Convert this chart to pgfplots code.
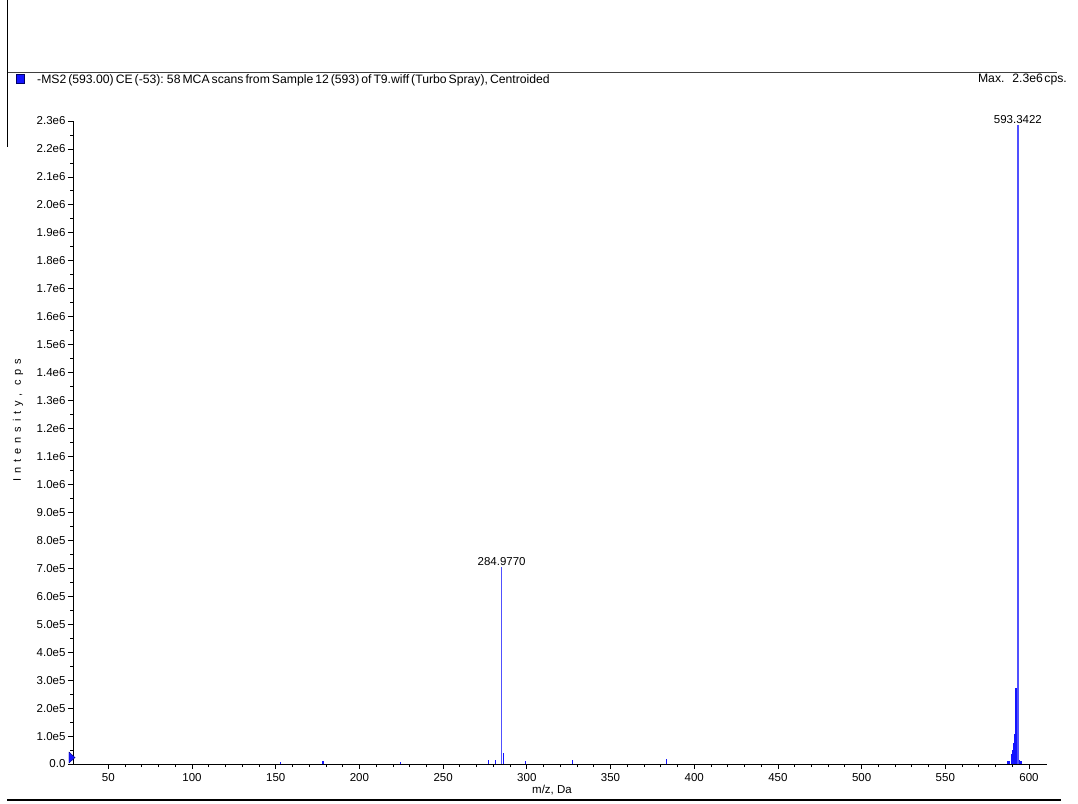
\documentclass[border=0pt]{standalone}
\usepackage{fontspec}
\setmainfont{Liberation Sans}
\usepackage{pgfplots}
\pgfplotsset{compat=1.18}
\definecolor{specblue}{RGB}{20,20,255}
\definecolor{speclight}{RGB}{80,80,255}
\begin{document}
\begin{tikzpicture}[x=1pt,y=1pt]
\useasboundingbox (0,0) rectangle (1078,-803);
% frame lines
\draw[line width=0.9pt] (7.5,0) -- (7.5,-147);
\draw[line width=0.9pt, black!75] (7.5,-72) -- (1057,-72);
\draw[line width=1.3pt] (7,-800) -- (1061,-800);
\filldraw[fill=specblue, draw=blue!40!black, line width=0.5pt] (16,-74.5) rectangle (24,-83);
\node[anchor=west, inner sep=0pt, font=\fontsize{12.2}{13}\selectfont] at (37,-80)
  {{\spaceskip=2pt plus 0.3pt\relax -MS2 (593.00) CE (-53): 58 MCA scans from Sample 12 (593) of T9.wiff (Turbo Spray), Centroided}};
\node[anchor=east, inner sep=0pt, font=\fontsize{12.2}{13}\selectfont] at (1067,-80)
  {Max.~ 2.3e6{\spaceskip=1.5pt\relax\ }cps.};
\node[rotate=90, inner sep=0pt, font=\fontsize{11}{12}\selectfont\addfontfeature{LetterSpace=45}] at (18,-420) {Intensity, cps};
\node[inner sep=0pt, font=\fontsize{11.5}{12}\selectfont] at (552,-790) {m/z, Da};
\begin{axis}[
  at={(73pt,-764pt)}, anchor=south west,
  scale only axis, width=974pt, height=643pt,
  xmin=28.9, xmax=610.75, ymin=0, ymax=2300000,
  axis x line=bottom, axis y line=left,
  axis line style={-, line width=0.9pt},
  xtick={50,100,150,200,250,300,350,400,450,500,550,600},
  minor x tick num=4,
  ytick={0,100000,200000,300000,400000,500000,600000,700000,800000,900000,1000000,1100000,1200000,1300000,1400000,1500000,1600000,1700000,1800000,1900000,2000000,2100000,2200000,2300000},
  yticklabels={0.0,1.0e5,2.0e5,3.0e5,4.0e5,5.0e5,6.0e5,7.0e5,8.0e5,9.0e5,1.0e6,1.1e6,1.2e6,1.3e6,1.4e6,1.5e6,1.6e6,1.7e6,1.8e6,1.9e6,2.0e6,2.1e6,2.2e6,2.3e6},
  minor y tick num=1,
  scaled y ticks=false,
  tick align=outside,
  major tick length=5pt, minor tick length=3pt,
  tick style={black, line width=0.8pt},
  xticklabel style={font=\fontsize{11.5}{12}\selectfont, yshift=-1pt},
  yticklabel style={font=\fontsize{11.5}{12}\selectfont, xshift=1pt},
  /pgf/number format/assume math mode=true,
  clip=false,
]
\addplot[ycomb, draw=specblue, line width=1.3pt, mark=none] coordinates {
 (153.0,8000) (178.3,10000) (224.7,8000) (277.2,14000) (281.2,14000)
 (285.98,40000) (299.1,10000) (327.3,13000) (383.4,17000)
 (587.0,12000) (588.0,12000) (589.9,35000) (590.5,50000) (591.0,75000)
 (591.5,108000) (592.3,272000) (594.3,14000) (595.3,12000)
};
\addplot[ycomb, draw=speclight, line width=1.5pt, mark=none] coordinates {(284.977,705000)};
\addplot[ycomb, draw=speclight, line width=1.3pt, mark=none] coordinates {(593.3422,2285000)};
\addplot[fill=specblue, draw=blue!50!black, line width=0.4pt, mark=none] coordinates {(26.5,42900) (30.1,23200) (26.5,3600)} -- cycle;
\node[above, inner sep=1pt, font=\fontsize{11.5}{12}\selectfont] at (axis cs:284.977,705000) {284.9770};
\node[above, inner sep=1pt, font=\fontsize{11.5}{12}\selectfont] at (axis cs:593.3422,2285000) {593.3422};
\end{axis}
\end{tikzpicture}
\end{document}
